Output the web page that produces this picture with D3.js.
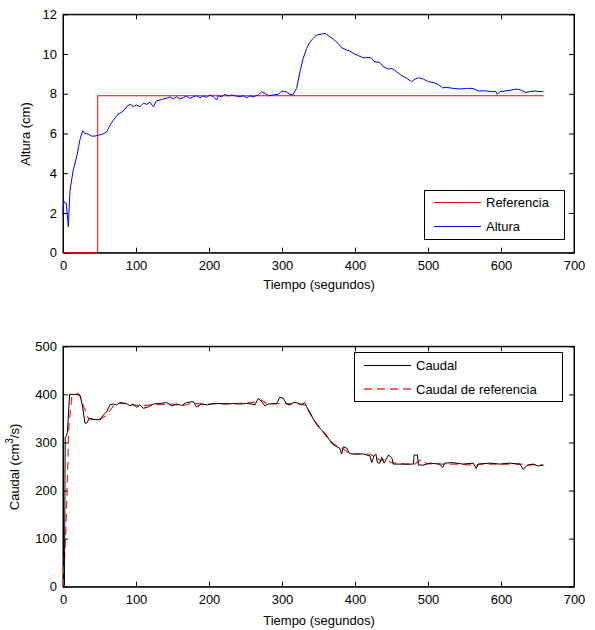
<!DOCTYPE html>
<html><head><meta charset="utf-8">
<script src="https://cdn.jsdelivr.net/npm/d3@7"></script>
<style>
body{margin:0;background:#fff;}
text{font-family:"Liberation Sans",Arial,Helvetica,sans-serif;fill:#000;}
</style></head>
<body><svg id="c" width="595" height="630"></svg>
<script>
// ---- Data ----
const alturaT = [0,1,3,4.5,7.3,9.6,14,18.7,23.3,27,30,34.7,39,43.8,48.4,53,59.8,64.4,69,73.5,78,82.6,87.2,91.8,96.3,100.9,105.5,110,114.6,119,123.7,128,132.9,137.4,142,146.6,151,155.7,160,164.8,169,173.9,178.5,183,187.7,192,196.8,201.4,206,210.5,212.8,217.4,222,226.5,231,235.6,242.5,247,251.6,256,260.7,267.6,272,276.7,281.3,288,295,299.5,306,311,314.6,320,324.6,329,333.8,338,342.8,347,354,359,363.5,370.3,377,381.7,388.6,393,397.7,404.5,411.4,420.5,427.4,434,438.8,445.7,450.2,457,464,470.8,477.6,482.2,486.8,493.6,500.5,507.3,514,520,525.5,534.7,543.8,553,562,568.9,578,587,593,594.9,598.6,605.4,614.6,621.5,628.3,634.2,639.7,646.6,653.4,658];
const alturaV = [1.9,2.6,2.5,2.5,1.31,3.15,4.16,4.83,5.7,6.14,6.0,5.97,5.87,5.87,5.92,5.95,6.08,6.42,6.67,6.9,7.02,7.13,7.35,7.47,7.35,7.43,7.35,7.52,7.47,7.57,7.35,7.64,7.69,7.74,7.77,7.85,7.74,7.85,7.74,7.8,7.89,7.77,7.85,7.9,7.8,7.89,7.82,7.94,7.85,7.69,7.9,7.85,7.97,7.89,7.94,7.9,7.85,7.9,7.8,7.89,7.85,7.94,8.1,8.02,7.9,7.94,7.97,8.14,8.1,7.97,7.94,8.27,9.11,9.78,10.28,10.59,10.79,10.95,11.0,11.04,10.92,10.75,10.53,10.32,10.2,10.15,10.03,9.92,9.81,9.83,9.61,9.58,9.36,9.24,9.28,9.11,8.91,8.78,8.61,8.74,8.81,8.74,8.61,8.57,8.47,8.3,8.32,8.27,8.24,8.27,8.27,8.14,8.15,8.11,8.11,7.97,8.11,8.14,8.19,8.24,8.17,8.06,8.11,8.14,8.11,8.11];
const refT = [0,47.5,47.5,658];
const refV = [0,0,7.9,7.9];

const caudalT = [0,2,3,5,6,9,18.7,21,24,27,30,33,36,41.5,50.7,55,60,64,69,73.5,78,87,92,96,101,105.5,110,117,124,133,142,149,156,162.5,169,178.5,183,190,197,206,215,224,233,242,251.6,258.4,263,267.6,272,276.7,281,292.7,297,302,306,311,315.5,320,327,331,336,340.6,345,349.8,354,359,363.5,368,375,379,381.7,384,388.8,392.5,397.7,411.4,420.5,423,426,428.7,430.6,434,436.6,440,446,450.6,452.5,466.4,480,481,485.5,487,493.6,502.6,516,520,523,534,548,562,566,569,585,598.6,612,626,630.6,636,644,651,658];
const caudalV = [0,0,310,315,320,400,400,402,395,373,340,341,350,348,347,357,364,378,380,378,383,381,376,380,373,378,371,374,380,381,383,376,380,377,383,385,374,380,378,381,381,380,381,380,381,380,378,392,385,376,380,381,394,392,380,378,383,383,378,383,368,355,343,333,326,319,309,298,291,288,276,291,288,277,276,276,272,258,272,276,258,257,269,257,274,267,255,255,255,274,274,253,253,257,255,248,257,258,255,257,246,255,257,255,257,255,244,253,255,251,253];
const caudalRefT = [0,4,8,12,18,23,27.8,31,34.7,42,50,55,60,64,69,73.5,85,95,108,120,150,163,175,200,240,265,272,280,300,320,329,338,347,356,365,372.6,379,386.5,393,420,428,435,442,450,470,482,488,492,498,520,545,566,570,600,630,636,645,658];
const caudalRefV = [0,120,330,395,400,398,376,365,350,348,348,352,357,366,376,381,381,378,376,378,380,376,381,380,381,384,388,380,381,381,380,362,340,322,305,295,290,284,276,276,270,262,266,258,255,255,262,265,256,255,255,252,255,255,255,252,254,253];

const xTicks = [0,100,200,300,400,500,600,700];
const yTicksTop = [0,2,4,6,8,10,12];
const yTicksBot = [0,100,200,300,400,500];

const svg = d3.select("#c");
const L = 63, R = 574;

function panel(top, bottom, yMax, yTicks) {
  const x = d3.scaleLinear().domain([0,700]).range([L,R]);
  const y = d3.scaleLinear().domain([0,yMax]).range([bottom,top]);
  const g = svg.append("g");
  const tick = 5;
  g.append("g").attr("transform",`translate(0,${bottom})`)
    .call(d3.axisBottom(x).tickValues(xTicks).tickSizeInner(-tick).tickSizeOuter(0).tickPadding(8));
  g.append("g").attr("transform",`translate(0,${top})`)
    .call(d3.axisTop(x).tickValues(xTicks).tickSizeInner(-tick).tickSizeOuter(0).tickFormat(""));
  g.append("g").attr("transform",`translate(${L},0)`)
    .call(d3.axisLeft(y).tickValues(yTicks).tickSizeInner(-tick).tickSizeOuter(0).tickPadding(6));
  g.append("g").attr("transform",`translate(${R},0)`)
    .call(d3.axisRight(y).tickValues(yTicks).tickSizeInner(-tick).tickSizeOuter(0).tickFormat(""));
  g.selectAll(".domain").attr("stroke","#000");
  g.selectAll(".tick line").attr("stroke","#000");
  g.selectAll(".tick text").style("font-size","13px").style("font-family","'Liberation Sans',Arial,sans-serif").attr("fill","#000");
  g.append("rect").attr("x",L).attr("y",top).attr("width",R-L).attr("height",bottom-top)
    .attr("fill","none").attr("stroke","#000").attr("stroke-width",1);
  return {x,y,g};
}

// ---- Top panel ----
const p1 = panel(14.3, 252.7, 12, yTicksTop);
const line1 = d3.line().x(d=>p1.x(d[0])).y(d=>p1.y(d[1]));
svg.append("path").datum(refT.map((t,i)=>[t,refV[i]])).attr("d",line1)
  .attr("fill","none").attr("stroke","#ff0000").attr("stroke-width",1);
svg.append("path").datum(alturaT.map((t,i)=>[t,alturaV[i]])).attr("d",line1)
  .attr("fill","none").attr("stroke","#0000ff").attr("stroke-width",1);
svg.append("text").attr("x",319).attr("y",289).attr("text-anchor","middle").style("font-size","13px").text("Tiempo (segundos)");
svg.append("text").attr("transform","translate(30,134) rotate(-90)").attr("text-anchor","middle").style("font-size","13px").text("Altura (cm)");
const lg1 = svg.append("g");
lg1.append("rect").attr("x",424.5).attr("y",190.5).attr("width",140).attr("height",49).attr("fill","#fff").attr("stroke","#000");
lg1.append("line").attr("x1",434).attr("x2",481).attr("y1",202.5).attr("y2",202.5).attr("stroke","#ff0000");
lg1.append("line").attr("x1",434).attr("x2",481).attr("y1",226.5).attr("y2",226.5).attr("stroke","#0000ff");
lg1.append("text").attr("x",486).attr("y",207).style("font-size","13px").text("Referencia");
lg1.append("text").attr("x",486).attr("y",231).style("font-size","13px").text("Altura");

// ---- Bottom panel ----
const p2 = panel(346.3, 586.7, 500, yTicksBot);
const line2 = d3.line().x(d=>p2.x(d[0])).y(d=>p2.y(d[1]));
svg.append("path").datum(caudalRefT.map((t,i)=>[t,caudalRefV[i]])).attr("d",line2)
  .attr("fill","none").attr("stroke","#ff2020").attr("stroke-width",1.2).attr("stroke-dasharray","8,5");
svg.append("path").datum(caudalT.map((t,i)=>[t,caudalV[i]])).attr("d",line2)
  .attr("fill","none").attr("stroke","#000").attr("stroke-width",1);
svg.append("text").attr("x",319).attr("y",625).attr("text-anchor","middle").style("font-size","13px").text("Tiempo (segundos)");
const yl = svg.append("text").attr("transform","translate(19,467) rotate(-90)").attr("text-anchor","middle").style("font-size","13px");
yl.append("tspan").text("Caudal (cm");
yl.append("tspan").attr("dy",-6).style("font-size","10px").text("3");
yl.append("tspan").attr("dy",6).text("/s)");
const lg2 = svg.append("g");
lg2.append("rect").attr("x",354.5).attr("y",352.5).attr("width",208).attr("height",49).attr("fill","#fff").attr("stroke","#000");
lg2.append("line").attr("x1",364).attr("x2",411).attr("y1",365.5).attr("y2",365.5).attr("stroke","#000");
lg2.append("line").attr("x1",364).attr("x2",411).attr("y1",389).attr("y2",389).attr("stroke","#ff3030").attr("stroke-width",1.6).attr("stroke-dasharray","8,5");
lg2.append("text").attr("x",416).attr("y",370).style("font-size","13px").text("Caudal");
lg2.append("text").attr("x",416).attr("y",394).style("font-size","13px").text("Caudal de referencia");
</script></body></html>
